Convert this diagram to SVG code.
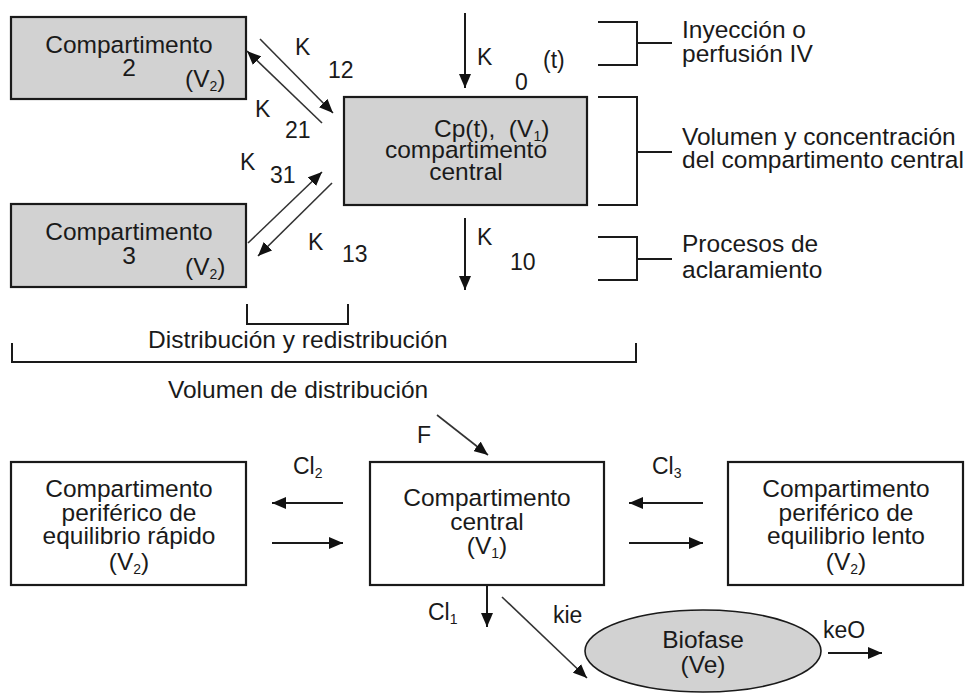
<svg xmlns="http://www.w3.org/2000/svg" width="965" height="693" viewBox="0 0 965 693">
  <style>
    text { font-family: "Liberation Sans", Arial, sans-serif; font-size: 24.5px; fill: #1a1a1a; }
    .lbl { font-size: 23px; }
    .mid { text-anchor: middle; }
    .sub { font-size: 14px; }
    .box { fill: #ffffff; stroke: #1a1a1a; stroke-width: 2.2; }
    .gbox { fill: #d2d2d2; stroke: #1a1a1a; stroke-width: 2.2; }
    .arr { fill: none; stroke: #1a1a1a; stroke-width: 2; marker-end: url(#head); }
    .thin { fill: none; stroke: #333333; stroke-width: 1.6; marker-end: url(#head); }
    .brk { fill: none; stroke: #1a1a1a; stroke-width: 2; }
  </style>
  <defs>
    <marker id="head" markerUnits="userSpaceOnUse" markerWidth="16" markerHeight="12" refX="14" refY="6" orient="auto">
      <path d="M0,0 L14,6 L0,12 z" fill="#111111"/>
    </marker>
  </defs>

  <rect width="965" height="693" fill="#ffffff"/>

  <!-- upper model: three compartments -->
  <g id="comp2">
    <rect class="gbox" x="11" y="17" width="235" height="82"/>
    <text class="mid" x="129" y="53">Compartimento</text>
    <text class="mid" x="129" y="76">2</text>
    <text x="185" y="87">(V<tspan class="sub" dy="4">2</tspan><tspan dy="-4">)</tspan></text>
  </g>

  <g id="comp3">
    <rect class="gbox" x="11" y="204" width="235" height="83"/>
    <text class="mid" x="129" y="240">Compartimento</text>
    <text class="mid" x="129" y="264">3</text>
    <text x="185" y="275">(V<tspan class="sub" dy="4">2</tspan><tspan dy="-4">)</tspan></text>
  </g>

  <g id="comp1">
    <rect class="gbox" x="344" y="97" width="243" height="108"/>
    <text x="434" y="137">Cp(t),&#160;&#160;(V<tspan class="sub" dy="4">1</tspan><tspan dy="-4">)</tspan></text>
    <text class="mid" x="466" y="158">compartimento</text>
    <text class="mid" x="466" y="180">central</text>
  </g>

  <!-- rate constants of the upper model -->
  <g id="connectors-top">
    <line class="arr" x1="465" y1="13" x2="465" y2="88"/>
    <line class="arr" x1="465" y1="218" x2="465" y2="290"/>
    <line class="thin" x1="260" y1="39" x2="333" y2="113"/>
    <line class="thin" x1="322" y1="123" x2="247" y2="51"/>
    <line class="thin" x1="248" y1="243" x2="322" y2="172"/>
    <line class="thin" x1="332" y1="183" x2="258" y2="256"/>
  </g>

  <g id="rate-labels">
    <text class="lbl" x="477" y="65">K</text>
    <text class="lbl" x="515" y="90">0</text>
    <text class="lbl" x="543" y="68">(t)</text>
    <text class="lbl" x="477" y="245">K</text>
    <text class="lbl" x="510" y="270">10</text>
    <text class="lbl" x="295" y="55">K</text>
    <text class="lbl" x="328" y="78">12</text>
    <text class="lbl" x="255" y="117">K</text>
    <text class="lbl" x="285" y="138">21</text>
    <text class="lbl" x="240" y="170">K</text>
    <text class="lbl" x="270" y="183">31</text>
    <text class="lbl" x="308" y="250">K</text>
    <text class="lbl" x="342" y="262">13</text>
  </g>

  <!-- explanatory brackets -->
  <g id="brackets">
    <path class="brk" d="M598,22 H637 V65 H598 M637,43 H672"/>
    <path class="brk" d="M598,97 H637 V205 H598 M637,152 H672"/>
    <path class="brk" d="M598,237 H637 V280 H598 M637,259 H672"/>
    <path class="brk" d="M247,304 V324 H348 V304"/>
    <path class="brk" d="M12,343 V362 H636 V343"/>
  </g>

  <g id="notes">
    <text x="682" y="38">Inyección o</text>
    <text x="682" y="62">perfusión IV</text>
    <text x="682" y="145">Volumen y concentración</text>
    <text x="682" y="168">del compartimento central</text>
    <text x="682" y="252">Procesos de</text>
    <text x="682" y="278">aclaramiento</text>
    <text x="148" y="348">Distribución y redistribución</text>
    <text x="168" y="398">Volumen de distribución</text>
  </g>

  <!-- lower model: clearances and effect site -->
  <g id="periph-fast">
    <rect class="box" x="11" y="462" width="235" height="123"/>
    <text class="mid" x="129" y="497">Compartimento</text>
    <text class="mid" x="129" y="521">periférico de</text>
    <text class="mid" x="129" y="544">equilibrio rápido</text>
    <text class="mid" x="129" y="570">(V<tspan class="sub" dy="4">2</tspan><tspan dy="-4">)</tspan></text>
  </g>

  <g id="central">
    <rect class="box" x="370" y="462" width="234" height="123"/>
    <text class="mid" x="487" y="506">Compartimento</text>
    <text class="mid" x="487" y="530">central</text>
    <text class="mid" x="487" y="554">(V<tspan class="sub" dy="4">1</tspan><tspan dy="-4">)</tspan></text>
  </g>

  <g id="periph-slow">
    <rect class="box" x="728" y="462" width="235" height="123"/>
    <text class="mid" x="846" y="497">Compartimento</text>
    <text class="mid" x="846" y="521">periférico de</text>
    <text class="mid" x="846" y="544">equilibrio lento</text>
    <text class="mid" x="846" y="570">(V<tspan class="sub" dy="4">2</tspan><tspan dy="-4">)</tspan></text>
  </g>

  <g id="biophase">
    <ellipse cx="703" cy="651" rx="118" ry="41" fill="#d2d2d2" stroke="#1a1a1a" stroke-width="1.6"/>
    <text class="mid" x="703" y="648">Biofase</text>
    <text class="mid" x="703" y="673">(Ve)</text>
  </g>

  <g id="connectors-bottom">
    <line class="thin" x1="437" y1="415" x2="488" y2="455"/>
    <line class="arr" x1="343" y1="503" x2="272" y2="503"/>
    <line class="arr" x1="272" y1="543" x2="343" y2="543"/>
    <line class="arr" x1="703" y1="503" x2="629" y2="503"/>
    <line class="arr" x1="629" y1="543" x2="703" y2="543"/>
    <line class="arr" x1="487" y1="585" x2="487" y2="627"/>
    <line class="thin" x1="502" y1="597" x2="587" y2="678"/>
    <line class="arr" x1="828" y1="653" x2="882" y2="653"/>
  </g>

  <g id="flow-labels">
    <text class="lbl" x="417" y="443">F</text>
    <text class="lbl" x="293" y="474">Cl<tspan class="sub" dy="4">2</tspan></text>
    <text class="lbl" x="652" y="474">Cl<tspan class="sub" dy="4">3</tspan></text>
    <text class="lbl" x="428" y="620">Cl<tspan class="sub" dy="4">1</tspan></text>
    <text class="lbl" x="553" y="623">kie</text>
    <text class="lbl" x="823" y="638">keO</text>
  </g>
</svg>
